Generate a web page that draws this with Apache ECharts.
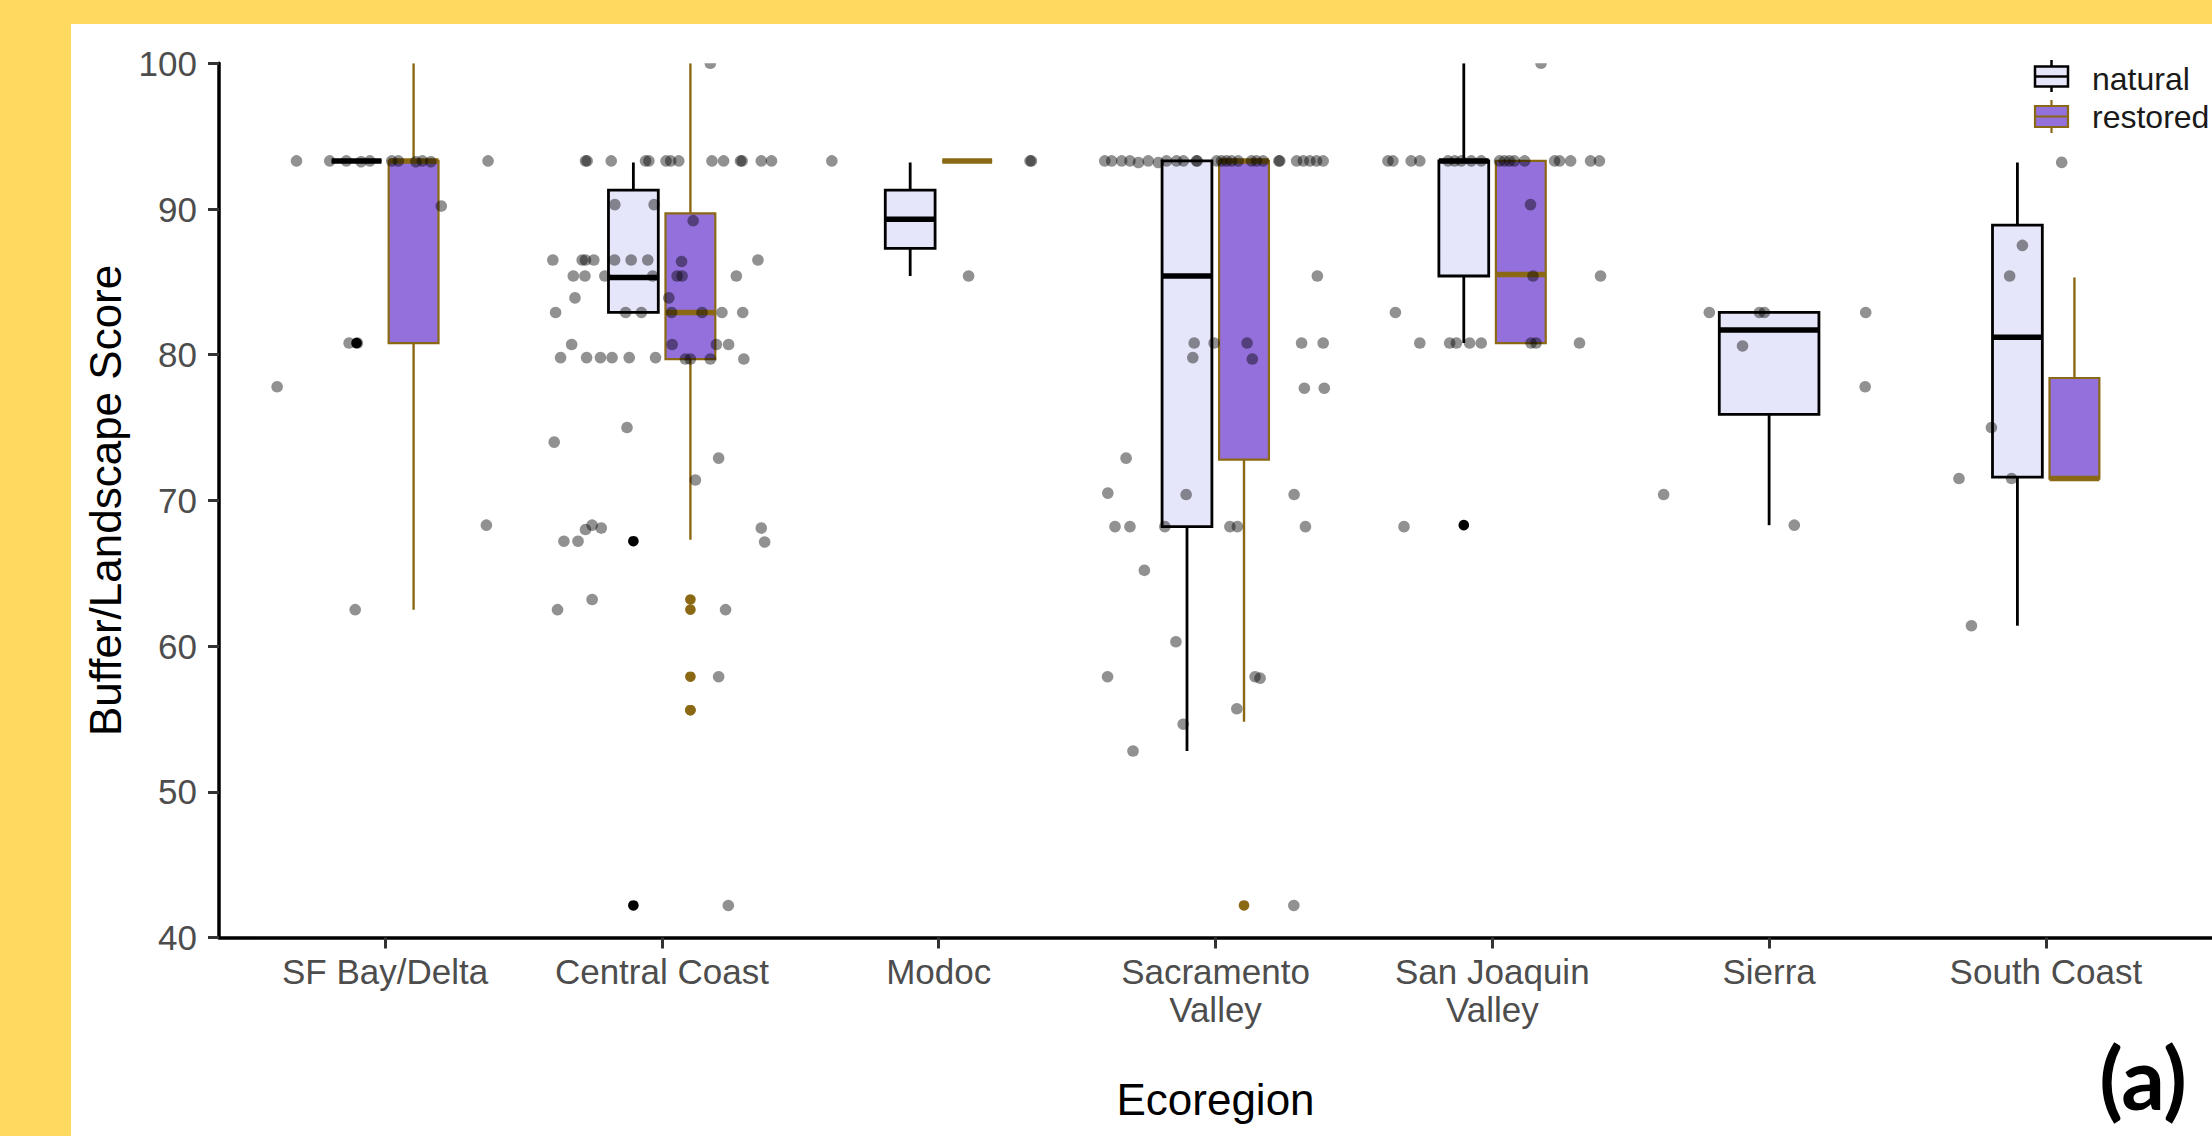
<!DOCTYPE html>
<html>
<head>
<meta charset="utf-8">
<script src="https://cdn.jsdelivr.net/npm/echarts@6/dist/echarts.min.js"></script>
<style>
html, body { margin: 0; padding: 0; background: #FFDA5F; }
#chart { width: 2212px; height: 1136px; }
</style>
</head>
<body>
<div id="chart"></div>
<script>
// ---------------- DATA ----------------
const categories = ['SF Bay/Delta', 'Central Coast', 'Modoc', 'Sacramento\nValley', 'San Joaquin\nValley', 'Sierra', 'South Coast'];
const groups = ['natural', 'restored'];
const yTicks = [40, 50, 60, 70, 80, 90, 100];

// box statistics per ecoregion: [lower whisker, Q1, median, Q3, upper whisker]; null = group absent
const naturalStats = [
  [93.3, 93.3, 93.3, 93.3, 93.3],
  [82.9, 82.9, 85.3, 91.3, 93.2],
  [85.4, 87.3, 89.3, 91.3, 93.2],
  [52.8, 68.2, 85.4, 93.3, 93.3],
  [80.8, 85.4, 93.3, 93.3, 100],
  [68.3, 75.9, 81.7, 82.9, 82.9],
  [61.4, 71.6, 81.2, 88.9, 93.2]
];
const restoredStats = [
  [62.5, 80.8, 93.3, 93.3, 100],
  [67.3, 79.7, 82.9, 89.7, 100],
  [93.3, 93.3, 93.3, 93.3, 93.3],
  [54.8, 72.8, 93.3, 93.3, 93.3],
  [80.8, 80.8, 85.5, 93.3, 93.3],
  null,
  [71.5, 71.5, 71.5, 78.4, 85.3]
];

// outliers: [ecoregion index, score]
const naturalOutliers = [[0, 80.8], [1, 67.2], [1, 42.2], [4, 68.3]];
const restoredOutliers = [[1, 63.2], [1, 62.5], [1, 57.9], [1, 55.6], [1, 55.6], [3, 42.2]];

// jittered observations per ecoregion: [jitter offset (in category widths), score]
const sfBayPoints = [
  [-0.32, 93.3], [-0.20, 93.3], [-0.14, 93.3], [-0.087, 93.3], [-0.055, 93.3], [0.024, 93.3], [0.048, 93.3],
  [0.111, 93.3], [0.135, 93.3], [0.165, 93.3], [0.372, 93.3], [0.203, 90.2], [-0.13, 80.8], [-0.10, 80.8],
  [-0.39, 77.8], [0.366, 68.3], [-0.108, 62.5]
];
const centralCoastPoints = [
  [-0.276, 93.3], [-0.27, 93.3], [-0.183, 93.3], [-0.059, 93.3], [-0.047, 93.3], [0.015, 93.3], [0.032, 93.3],
  [0.061, 93.3], [0.181, 93.3], [0.223, 93.3], [0.284, 93.3], [0.29, 93.3], [0.359, 93.3], [0.396, 93.3],
  [0.175, 100], [-0.17, 90.3], [-0.028, 90.3], [0.113, 89.2],
  [-0.394, 86.5], [-0.288, 86.5], [-0.276, 86.5], [-0.246, 86.5], [-0.171, 86.5], [-0.111, 86.5], [-0.051, 86.5],
  [0.347, 86.5], [0.071, 86.4],
  [-0.32, 85.4], [-0.278, 85.4], [-0.206, 85.4], [-0.033, 85.4], [0.269, 85.4], [0.055, 85.4], [0.073, 85.4],
  [-0.314, 83.9], [0.025, 83.9],
  [-0.384, 82.9], [-0.131, 82.9], [-0.074, 82.9], [0.035, 82.9], [0.145, 82.9], [0.217, 82.9], [0.292, 82.9],
  [-0.326, 80.7], [0.037, 80.7], [0.197, 80.7], [0.241, 80.7],
  [-0.366, 79.8], [-0.272, 79.8], [-0.222, 79.8], [-0.18, 79.8], [-0.118, 79.8], [-0.023, 79.8],
  [0.085, 79.7], [0.103, 79.7], [0.175, 79.7], [0.296, 79.7],
  [-0.389, 74.0], [-0.126, 75.0], [0.205, 72.9], [0.121, 71.4],
  [-0.276, 68.0], [-0.252, 68.3], [-0.219, 68.1], [0.359, 68.1],
  [-0.354, 67.2], [-0.303, 67.2], [0.371, 67.2],
  [-0.252, 63.2], [-0.377, 62.5], [0.23, 62.5], [0.205, 57.9], [0.24, 42.2]
];
const modocPoints = [[-0.386, 93.3], [0.108, 85.4], [0.33, 93.3], [0.335, 93.3]];
const sacramentoPoints = [
  [-0.40, 93.3], [-0.375, 93.3], [-0.339, 93.3], [-0.309, 93.3], [-0.279, 93.3], [-0.243, 93.3], [-0.207, 93.3],
  [-0.177, 93.3], [-0.141, 93.3], [-0.116, 93.3], [-0.069, 93.3], [-0.066, 93.3], [0.004, 93.3], [0.022, 93.3],
  [0.04, 93.3], [0.058, 93.3], [0.082, 93.3], [0.13, 93.3], [0.148, 93.3], [0.172, 93.3], [0.229, 93.3],
  [0.232, 93.3], [0.293, 93.3], [0.317, 93.3], [0.341, 93.3], [0.365, 93.3], [0.389, 93.3],
  [0.368, 85.4], [-0.077, 80.8], [-0.005, 80.8], [0.114, 80.8], [0.311, 80.8], [0.389, 80.8],
  [-0.082, 79.8], [0.133, 79.7], [0.321, 77.7], [0.393, 77.7], [-0.323, 72.9],
  [-0.389, 70.5], [-0.106, 70.4], [0.284, 70.4],
  [-0.363, 68.2], [-0.309, 68.2], [-0.183, 68.2], [0.052, 68.2], [0.079, 68.2], [0.325, 68.2],
  [-0.257, 65.2], [-0.143, 60.3], [-0.39, 57.9], [0.143, 57.9], [0.161, 57.8], [0.077, 55.7],
  [-0.117, 54.7], [-0.298, 52.8], [0.283, 42.2]
];
const sanJoaquinPoints = [
  [-0.377, 93.3], [-0.359, 93.3], [-0.293, 93.3], [-0.262, 93.3], [-0.16, 93.3], [-0.136, 93.3], [-0.112, 93.3],
  [-0.076, 93.3], [-0.04, 93.3], [0.026, 93.3], [0.044, 93.3], [0.062, 93.3], [0.08, 93.3], [0.117, 93.3],
  [0.225, 93.3], [0.243, 93.3], [0.283, 93.3], [0.355, 93.3], [0.387, 93.3],
  [0.176, 100], [0.138, 90.3], [0.147, 85.4], [0.391, 85.4], [-0.35, 82.9],
  [-0.262, 80.8], [-0.154, 80.8], [-0.13, 80.8], [-0.082, 80.8], [-0.04, 80.8], [0.14, 80.8], [0.158, 80.8],
  [0.315, 80.8], [-0.319, 68.2]
];
const sierraPoints = [[-0.381, 70.4], [-0.216, 82.9], [-0.035, 82.9], [-0.017, 82.9], [-0.096, 80.6], [0.349, 82.9], [0.347, 77.8], [0.091, 68.3]];
const southCoastPoints = [[0.057, 93.2], [-0.085, 87.5], [-0.131, 85.4], [-0.197, 75.0], [-0.314, 71.5], [-0.124, 71.5], [-0.269, 61.4]];

const pointsByRegion = [sfBayPoints, centralCoastPoints, modocPoints, sacramentoPoints, sanJoaquinPoints, sierraPoints, southCoastPoints];

// ---------------- STYLE ----------------
const BOX_W = 0.18;      // box width in category units
const DODGE = 0.103;     // dodge offset in category units
const FONT = '"Liberation Sans", Arial, Helvetica, sans-serif';
const BROWN = '#8B6914';
const groupStyle = [
  { fill: '#E6E6FA', stroke: '#000000', boxLine: 2.8, whisker: 2.8, median: 5.5 },
  { fill: '#9370DB', stroke: BROWN, boxLine: 2.2, whisker: 2.4, median: 5.5 }
];

const statsByGroup = [naturalStats, restoredStats];

function boxData(g) {
  const other = statsByGroup[1 - g];
  const out = [];
  statsByGroup[g].forEach((s, i) => {
    if (!s) return;
    out.push([i, s[0], s[1], s[2], s[3], s[4], other[i] ? 0 : 1]);
  });
  return out;
}
function groupCenter(g, cat, single) {
  return cat + 1 + (single ? 0 : (g === 0 ? -DODGE : DODGE));
}

function boxRenderer(g) {
  const st = groupStyle[g];
  return function (params, api) {
    const cat = api.value(0);
    const single = api.value(6) === 1;
    const cx = groupCenter(g, cat, single);
    const w = single ? BOX_W * 2 : BOX_W;
    const halfW = api.size([w, 0])[0] / 2;
    const pLow = api.coord([cx, api.value(1)]);
    const pQ1 = api.coord([cx, api.value(2)]);
    const pMed = api.coord([cx, api.value(3)]);
    const pQ3 = api.coord([cx, api.value(4)]);
    const pHigh = api.coord([cx, api.value(5)]);
    const x = pMed[0];
    const children = [];
    if (pHigh[1] < pQ3[1] - 0.5) {
      children.push({ type: 'line', shape: { x1: x, y1: pQ3[1], x2: x, y2: pHigh[1] }, style: { stroke: st.stroke, lineWidth: st.whisker } });
    }
    if (pLow[1] > pQ1[1] + 0.5) {
      children.push({ type: 'line', shape: { x1: x, y1: pQ1[1], x2: x, y2: pLow[1] }, style: { stroke: st.stroke, lineWidth: st.whisker } });
    }
    children.push({ type: 'rect', shape: { x: x - halfW, y: pQ3[1], width: halfW * 2, height: pQ1[1] - pQ3[1] }, style: { fill: st.fill, stroke: st.stroke, lineWidth: st.boxLine } });
    children.push({ type: 'line', shape: { x1: x - halfW, y1: pMed[1], x2: x + halfW, y2: pMed[1] }, style: { stroke: st.stroke, lineWidth: st.median } });
    return { type: 'group', children: children };
  };
}

function outlierData(list, g) {
  return list.map(o => [groupCenter(g, o[0], !statsByGroup[1 - g][o[0]]), o[1]]);
}
function outlierRenderer(color) {
  return function (params, api) {
    const p = api.coord([api.value(0), api.value(1)]);
    return { type: 'circle', shape: { cx: p[0], cy: p[1], r: 5.3 }, style: { fill: color } };
  };
}

const jitterData = [];
pointsByRegion.forEach((arr, i) => arr.forEach(p => jitterData.push([i + 1 + p[0], p[1]])));

const catValues = categories.map((c, i) => i + 1);

const chart = echarts.init(document.getElementById('chart'), null, { renderer: 'svg', width: 2212, height: 1136 });

const LX = 2035; // legend key left
const option = {
  animation: false,
  backgroundColor: '#FFDA5F',
  grid: { left: 219, top: 63.3, width: 1995.1, height: 874.2, show: false },
  xAxis: {
    type: 'value', min: 0.4, max: 7.6,
    name: 'Ecoregion', nameLocation: 'middle', nameGap: 140,
    nameTextStyle: { fontFamily: FONT, fontSize: 44, color: '#000000' },
    axisLine: { show: true, lineStyle: { color: '#000000', width: 3.5 } },
    axisTick: { show: true, customValues: catValues, length: 11, lineStyle: { color: '#333333', width: 3 } },
    axisLabel: {
      show: true, customValues: catValues, margin: 15,
      formatter: v => categories[Math.round(v) - 1] || '',
      fontFamily: FONT, fontSize: 35, color: '#4D4D4D', lineHeight: 38, align: 'center'
    },
    splitLine: { show: false }
  },
  yAxis: {
    type: 'value', min: yTicks[0], max: yTicks[yTicks.length - 1], interval: 10,
    name: 'Buffer/Landscape Score', nameLocation: 'middle', nameGap: 92, nameRotate: 90,
    nameTextStyle: { fontFamily: FONT, fontSize: 44, color: '#000000' },
    axisLine: { show: true, lineStyle: { color: '#000000', width: 3.5 } },
    axisTick: { show: true, length: 11, lineStyle: { color: '#333333', width: 3 } },
    axisLabel: { fontFamily: FONT, fontSize: 35, color: '#4D4D4D', margin: 22 },
    splitLine: { show: false }
  },
  graphic: [
    { type: 'rect', z: -10, silent: true, shape: { x: 71, y: 24, width: 2212 - 71, height: 1136 - 24 }, style: { fill: '#FFFFFF' } },
    // legend
    { type: 'line', z: 10, shape: { x1: LX + 16.5, y1: 60, x2: LX + 16.5, y2: 92 }, style: { stroke: '#000', lineWidth: 2.5 } },
    { type: 'rect', z: 10, shape: { x: LX, y: 66.5, width: 33, height: 20 }, style: { fill: '#E6E6FA', stroke: '#000', lineWidth: 2.5 } },
    { type: 'line', z: 10, shape: { x1: LX, y1: 76.5, x2: LX + 33, y2: 76.5 }, style: { stroke: '#000', lineWidth: 2.5 } },
    { type: 'line', z: 10, shape: { x1: LX + 16.5, y1: 100, x2: LX + 16.5, y2: 133 }, style: { stroke: BROWN, lineWidth: 2.2 } },
    { type: 'rect', z: 10, shape: { x: LX, y: 106, width: 33, height: 21 }, style: { fill: '#9370DB', stroke: BROWN, lineWidth: 2.2 } },
    { type: 'line', z: 10, shape: { x1: LX, y1: 116.5, x2: LX + 33, y2: 116.5 }, style: { stroke: BROWN, lineWidth: 2.2 } },
    { type: 'text', z: 10, x: LX + 57, y: 79, style: { text: groups[0], fontFamily: FONT, fontSize: 32, fill: '#1a1a1a', textAlign: 'left', textVerticalAlign: 'middle' } },
    { type: 'text', z: 10, x: LX + 57, y: 117, style: { text: groups[1], fontFamily: FONT, fontSize: 32, fill: '#1a1a1a', textAlign: 'left', textVerticalAlign: 'middle' } },
    // panel tag
    { type: 'text', z: 10, x: 2143, y: 1076, style: { text: '(a)', fontFamily: 'Lato, "Open Sans", sans-serif', fontWeight: 'bold', fontSize: 86, fill: '#000000', textAlign: 'center', textVerticalAlign: 'middle' } }
  ],
  series: [
    { name: groups[0], type: 'custom', clip: true, silent: true, z: 2, renderItem: boxRenderer(0), data: boxData(0), encode: { x: 0, y: 3 } },
    { name: groups[1], type: 'custom', clip: true, silent: true, z: 2, renderItem: boxRenderer(1), data: boxData(1), encode: { x: 0, y: 3 } },
    { name: 'natural outliers', type: 'custom', clip: true, silent: true, z: 3, renderItem: outlierRenderer('#000000'), data: outlierData(naturalOutliers, 0), encode: { x: 0, y: 1 } },
    { name: 'restored outliers', type: 'custom', clip: true, silent: true, z: 3, renderItem: outlierRenderer(BROWN), data: outlierData(restoredOutliers, 1), encode: { x: 0, y: 1 } },
    {
      name: 'observations', type: 'custom', clip: true, silent: true, z: 4,
      renderItem: function (params, api) {
        const p = api.coord([api.value(0), api.value(1)]);
        return { type: 'circle', shape: { cx: p[0], cy: p[1], r: 5.8 }, style: { fill: 'rgba(0,0,0,0.43)' } };
      },
      data: jitterData, encode: { x: 0, y: 1 }
    }
  ]
};
chart.setOption(option);
</script>
</body>
</html>
